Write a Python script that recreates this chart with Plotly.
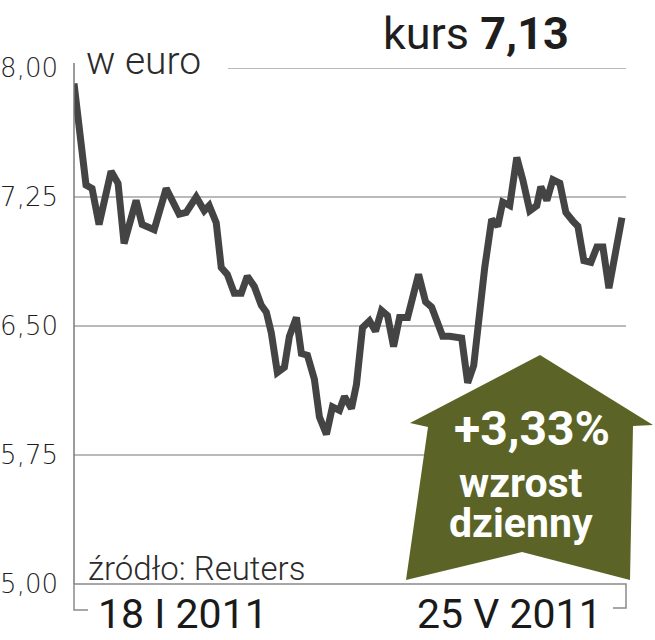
import plotly.graph_objects as go

# session index (trading days from 18 I 2011) and closing price in euro
sessions = [0.0, 1.95, 2.93, 4.07, 6.02, 7.15, 8.13, 10.08, 11.06, 13.01,
            14.96, 17.07, 18.21, 19.84, 21.14, 21.95, 23.09, 23.90, 24.88, 26.02,
            27.15, 28.13, 29.27, 30.41, 31.22, 32.03, 33.01, 34.15, 34.96, 36.10,
            36.91, 37.89, 39.02, 39.84, 40.98, 41.95, 43.09, 43.90, 45.04, 45.85,
            46.83, 47.97, 48.94, 49.92, 50.89, 51.87, 52.85, 54.15, 55.93, 57.07,
            58.05, 59.84, 60.98, 61.79, 62.93, 63.90, 64.88, 66.67, 67.80, 68.78,
            69.59, 70.73, 71.87, 72.85, 73.98, 75.12, 75.77, 76.75, 77.72, 78.86,
            79.84, 80.98, 81.79, 82.76, 83.90, 84.88, 85.85, 86.83, 88.94]
prices = [7.91, 7.32, 7.30, 7.09, 7.40, 7.33, 6.98, 7.23, 7.09, 7.06,
          7.30, 7.15, 7.16, 7.25, 7.17, 7.20, 7.10, 6.84, 6.80, 6.69,
          6.69, 6.79, 6.73, 6.62, 6.58, 6.46, 6.23, 6.26, 6.44, 6.55,
          6.34, 6.33, 6.19, 5.97, 5.87, 6.03, 6.01, 6.09, 6.02, 6.16,
          6.49, 6.53, 6.47, 6.59, 6.56, 6.38, 6.55, 6.55, 6.80, 6.64,
          6.61, 6.44, 6.44, 6.44, 6.43, 6.17, 6.27, 6.84, 7.12, 7.08,
          7.22, 7.20, 7.48, 7.35, 7.17, 7.20, 7.31, 7.23, 7.35, 7.33,
          7.16, 7.11, 7.08, 6.88, 6.87, 6.96, 6.96, 6.72, 7.13]

y_ticks = [5.00, 5.75, 6.50, 7.25, 8.00]
y_labels = ["5,00", "5,75", "6,50", "7,25", "8,00"]
date_start = "18 I 2011"
date_end = "25 V 2011"
last_price = "7,13"
daily_change = "+3,33%"

LINE = "#444444"
GRID = "#a3a3a3"
OLIVE = "#5b6426"
TXT = "#2b2b2b"
FONT = "Roboto, Liberation Sans, Arial"

# plot area in pixels
L, R, T, B = 74, 626, 68, 584


def px(x):
    return (x - L) / (R - L)


def py(y):
    return (B - y) / (B - T)


fig = go.Figure(go.Scatter(
    x=sessions, y=prices, mode="lines",
    line=dict(color=LINE, width=7, shape="linear"),
    cliponaxis=False, hoverinfo="skip",
))

shapes = []
for v in y_ticks[1:-1]:
    shapes.append(dict(type="line", xref="paper", yref="y", x0=0, x1=1, y0=v, y1=v,
                       line=dict(color=GRID, width=1.5), layer="below"))
shapes.append(dict(type="line", xref="paper", yref="y", x0=px(228), x1=1, y0=8, y1=8,
                   line=dict(color=GRID, width=1.5), layer="below"))
# y axis line
shapes.append(dict(type="line", xref="paper", yref="paper", x0=0, x1=0, y0=0, y1=py(63),
                   line=dict(color="#7a7a7a", width=1.5)))
# bottom bracket
shapes.append(dict(type="path", xref="paper", yref="paper",
                   path=f"M {px(88)},{py(610)} L {px(74)},{py(610)} L {px(74)},{py(584)} "
                        f"L {px(626)},{py(584)} L {px(626)},{py(608)} L {px(613)},{py(608)}",
                   line=dict(color="#8a8a8a", width=1.5)))
# arrow
pts = [(540, 355), (653, 425), (633, 426), (630, 580), (522, 552), (406, 580),
       (428, 427), (410, 423)]
path = "M " + " L ".join(f"{px(a)},{py(b)}" for a, b in pts) + " Z"
shapes.append(dict(type="path", xref="paper", yref="paper", path=path,
                   fillcolor=OLIVE, line=dict(width=0), layer="above"))

big = '<span style="font-size:41px"><b>{}</b></span>'
ann = [
    dict(x=px(571), y=py(33), xanchor="right", yanchor="middle",
         text=f"kurs <b>{last_price}</b>", font=dict(size=45, color="#1e1e1e")),
    dict(x=px(84), y=py(61), xanchor="left", yanchor="middle",
         text="w euro", font=dict(size=39, color=TXT, weight=300)),
    dict(x=px(86), y=py(568), xanchor="left", yanchor="middle",
         text="źródło: Reuters", font=dict(size=33, color=TXT, weight=300)),
    dict(x=px(96), y=py(614), xanchor="left", yanchor="middle",
         text=date_start, font=dict(size=41, color="#1a1a1a")),
    dict(x=px(604), y=py(614), xanchor="right", yanchor="middle",
         text=date_end, font=dict(size=41, color="#1a1a1a")),
    dict(x=px(532), y=py(428), xanchor="center", yanchor="middle",
         text=f"<b>{daily_change}</b>", font=dict(size=48, color="white")),
    dict(x=px(521), y=py(503), xanchor="center", yanchor="middle",
         text=big.format("wzrost") + "<br>" + big.format("dzienny"),
         font=dict(size=31, color="white")),
]
for a in ann:
    a.update(xref="paper", yref="paper", showarrow=False)

fig.update_layout(
    width=655, height=640, autosize=False,
    margin=dict(l=L, r=655 - R, t=T, b=640 - B),
    paper_bgcolor="white", plot_bgcolor="white",
    font=dict(family=FONT, color=TXT),
    showlegend=False, shapes=shapes, annotations=ann,
)
fig.update_xaxes(range=[0, 89.6], visible=False, fixedrange=True, automargin=False)
fig.update_yaxes(range=[5, 8], tickvals=y_ticks, ticktext=y_labels, showgrid=False,
                 zeroline=False, showline=False, ticks="", ticklabelstandoff=15,
                 automargin=False,
                 tickfont=dict(family="DejaVu Sans, Roboto", size=26, color="#1e1e1e",
                               weight=200), fixedrange=True)

fig.write_html("out.html", config={"displayModeBar": False},
               post_script="document.body.style.margin='0';document.body.style.padding='0';")
